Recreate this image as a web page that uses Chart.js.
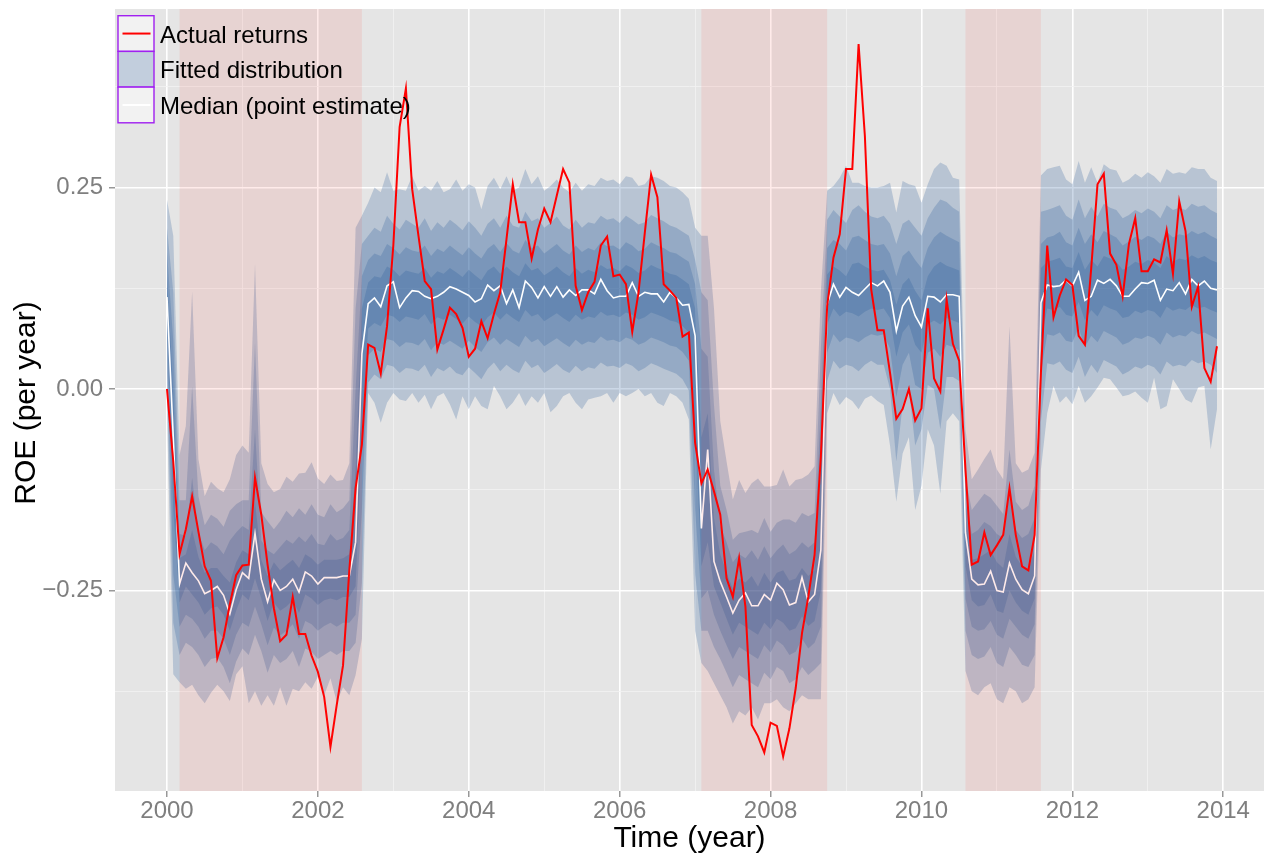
<!DOCTYPE html>
<html>
<head>
<meta charset="utf-8">
<title>ROE fan chart</title>
<script src="https://cdn.jsdelivr.net/npm/chart.js@4.4.1/dist/chart.umd.min.js"></script>
<style>
  html, body { margin: 0; padding: 0; background: #ffffff; }
  #wrap { width: 1264px; height: 855px; }
</style>
</head>
<body>
<div id="wrap"><canvas id="roeChart" width="1264" height="855"></canvas></div>
<script>
// Monthly values, Jan 2000 .. Dec 2013 (one row per year)
var actual = [
  0.000, -0.090, -0.205, -0.174, -0.133, -0.177, -0.220, -0.238, -0.334, -0.308, -0.267, -0.231,
  -0.219, -0.218, -0.110, -0.156, -0.218, -0.272, -0.313, -0.305, -0.258, -0.304, -0.304, -0.331,
  -0.351, -0.382, -0.444, -0.392, -0.343, -0.225, -0.123, -0.069, 0.055, 0.051, 0.019, 0.078,
  0.178, 0.325, 0.373, 0.248, 0.190, 0.134, 0.124, 0.049, 0.074, 0.101, 0.093, 0.076,
  0.040, 0.050, 0.084, 0.063, 0.093, 0.120, 0.186, 0.254, 0.207, 0.207, 0.162, 0.198,
  0.224, 0.207, 0.240, 0.273, 0.256, 0.128, 0.098, 0.120, 0.133, 0.178, 0.189, 0.140,
  0.142, 0.130, 0.071, 0.120, 0.194, 0.266, 0.238, 0.130, 0.122, 0.113, 0.065, 0.070,
  -0.067, -0.117, -0.100, -0.127, -0.156, -0.235, -0.258, -0.210, -0.270, -0.417, -0.431, -0.451,
  -0.414, -0.418, -0.456, -0.421, -0.371, -0.303, -0.258, -0.206, -0.084, 0.103, 0.163, 0.192,
  0.273, 0.273, 0.428, 0.314, 0.124, 0.073, 0.073, 0.020, -0.037, -0.025, 0.000, -0.039,
  -0.024, 0.100, 0.013, -0.003, 0.111, 0.056, 0.035, -0.100, -0.218, -0.214, -0.178, -0.206,
  -0.194, -0.181, -0.123, -0.181, -0.220, -0.225, -0.181, 0.020, 0.178, 0.089, 0.116, 0.136,
  0.129, 0.066, 0.055, 0.150, 0.254, 0.267, 0.168, 0.154, 0.115, 0.180, 0.212, 0.146,
  0.146, 0.161, 0.157, 0.197, 0.143, 0.233, 0.196, 0.102, 0.127, 0.026, 0.009, 0.053
];

var median = [
  0.114, -0.060, -0.242, -0.216, -0.228, -0.238, -0.254, -0.250, -0.245, -0.256, -0.279, -0.249,
  -0.228, -0.235, -0.179, -0.236, -0.264, -0.237, -0.250, -0.245, -0.236, -0.252, -0.227, -0.232,
  -0.242, -0.234, -0.234, -0.234, -0.232, -0.232, -0.190, 0.044, 0.106, 0.113, 0.102, 0.128,
  0.133, 0.101, 0.113, 0.122, 0.121, 0.115, 0.112, 0.115, 0.120, 0.127, 0.124, 0.120,
  0.116, 0.108, 0.112, 0.129, 0.122, 0.128, 0.106, 0.123, 0.101, 0.134, 0.126, 0.113,
  0.127, 0.115, 0.127, 0.114, 0.123, 0.116, 0.123, 0.123, 0.118, 0.136, 0.122, 0.113,
  0.115, 0.115, 0.132, 0.115, 0.120, 0.118, 0.118, 0.108, 0.120, 0.113, 0.104, 0.105,
  0.066, -0.173, -0.075, -0.214, -0.239, -0.258, -0.278, -0.262, -0.253, -0.269, -0.269, -0.255,
  -0.262, -0.241, -0.249, -0.268, -0.265, -0.234, -0.264, -0.255, -0.200, 0.105, 0.130, 0.114,
  0.126, 0.120, 0.116, 0.124, 0.132, 0.128, 0.134, 0.120, 0.072, 0.103, 0.114, 0.091,
  0.077, 0.115, 0.114, 0.108, 0.117, 0.117, 0.115, -0.178, -0.236, -0.243, -0.242, -0.226,
  -0.250, -0.252, -0.216, -0.236, -0.249, -0.254, -0.232, 0.107, 0.129, 0.127, 0.128, 0.135,
  0.128, 0.145, 0.110, 0.115, 0.135, 0.131, 0.136, 0.128, 0.115, 0.115, 0.124, 0.132,
  0.131, 0.135, 0.110, 0.124, 0.122, 0.132, 0.118, 0.136, 0.128, 0.134, 0.125, 0.123
];

// fitted distribution: edges of the four nested ribbons (outermost first)
var outerHi = [
  0.235, 0.190, -0.082, -0.046, 0.121, -0.087, -0.133, -0.115, -0.123, -0.128, -0.112, -0.082,
  -0.070, -0.079, 0.155, -0.092, -0.118, -0.128, -0.124, -0.109, -0.115, -0.105, -0.104, -0.091,
  -0.111, -0.118, -0.106, -0.114, -0.113, -0.092, 0.200, 0.215, 0.231, 0.250, 0.244, 0.269,
  0.246, 0.248, 0.246, 0.264, 0.246, 0.252, 0.246, 0.258, 0.244, 0.248, 0.260, 0.246,
  0.254, 0.250, 0.223, 0.252, 0.262, 0.248, 0.264, 0.246, 0.250, 0.273, 0.254, 0.264,
  0.246, 0.252, 0.260, 0.250, 0.244, 0.256, 0.246, 0.254, 0.252, 0.262, 0.258, 0.260,
  0.254, 0.264, 0.262, 0.252, 0.254, 0.264, 0.262, 0.258, 0.252, 0.250, 0.244, 0.236,
  0.200, 0.190, 0.190, 0.100, -0.040, -0.090, -0.137, -0.113, -0.129, -0.117, -0.111, -0.121,
  -0.121, -0.119, -0.100, -0.121, -0.113, -0.111, -0.106, -0.096, 0.120, 0.246, 0.252, 0.262,
  0.277, 0.256, 0.256, 0.252, 0.250, 0.250, 0.252, 0.256, 0.219, 0.258, 0.254, 0.252,
  0.231, 0.254, 0.273, 0.281, 0.277, 0.262, 0.260, -0.050, -0.112, -0.100, -0.087, -0.075,
  -0.100, -0.112, 0.078, -0.092, -0.104, -0.100, -0.079, 0.265, 0.273, 0.275, 0.277, 0.260,
  0.254, 0.283, 0.256, 0.275, 0.256, 0.279, 0.273, 0.271, 0.256, 0.260, 0.267, 0.262,
  0.269, 0.264, 0.256, 0.273, 0.267, 0.269, 0.267, 0.275, 0.273, 0.273, 0.262, 0.258
];
var outerLo = [
  -0.030, -0.354, -0.364, -0.372, -0.367, -0.380, -0.390, -0.377, -0.367, -0.375, -0.387, -0.354,
  -0.344, -0.390, -0.375, -0.393, -0.380, -0.393, -0.370, -0.393, -0.372, -0.375, -0.364, -0.372,
  -0.357, -0.380, -0.359, -0.388, -0.370, -0.380, -0.355, -0.310, -0.005, -0.017, -0.042, -0.017,
  -0.005, -0.013, -0.015, -0.005, -0.017, -0.007, -0.025, -0.009, -0.005, -0.019, -0.038, -0.009,
  -0.025, -0.009, -0.021, -0.025, 0.004, -0.009, -0.025, -0.017, -0.005, -0.021, -0.009, -0.017,
  -0.005, -0.029, -0.021, -0.009, -0.005, -0.017, -0.025, -0.013, -0.011, -0.009, -0.005, -0.017,
  -0.005, -0.009, -0.005, 0.000, -0.009, -0.005, -0.017, -0.021, -0.005, -0.009, -0.017, -0.038,
  -0.300, -0.340, -0.350, -0.365, -0.380, -0.395, -0.415, -0.400, -0.405, -0.395, -0.410, -0.390,
  -0.390, -0.385, -0.395, -0.400, -0.390, -0.380, -0.385, -0.385, -0.385, -0.030, -0.005, -0.020,
  -0.010, -0.015, -0.025, -0.012, -0.008, -0.015, -0.020, -0.070, -0.140, -0.080, -0.060, -0.150,
  -0.120, -0.050, -0.070, -0.130, -0.040, -0.030, -0.040, -0.350, -0.375, -0.380, -0.370, -0.365,
  -0.385, -0.390, -0.370, -0.375, -0.390, -0.385, -0.370, -0.100, -0.030, 0.004, -0.017, -0.009,
  -0.019, 0.004, -0.017, -0.009, 0.002, 0.014, 0.012, 0.002, -0.009, -0.007, -0.003, -0.011,
  -0.017, 0.014, -0.025, -0.021, 0.012, 0.000, -0.013, -0.017, 0.002, 0.004, -0.075, -0.025
];
var wideHi = [
  0.200, 0.120, -0.138, -0.138, 0.003, -0.133, -0.169, -0.156, -0.161, -0.171, -0.151, -0.143,
  -0.138, -0.138, 0.057, -0.153, -0.164, -0.174, -0.164, -0.151, -0.159, -0.148, -0.156, -0.143,
  -0.156, -0.159, -0.143, -0.153, -0.148, -0.138, 0.100, 0.180, 0.190, 0.200, 0.195, 0.215,
  0.205, 0.198, 0.210, 0.205, 0.200, 0.212, 0.196, 0.207, 0.200, 0.210, 0.204, 0.197,
  0.208, 0.200, 0.190, 0.205, 0.212, 0.200, 0.215, 0.203, 0.200, 0.220, 0.208, 0.212,
  0.200, 0.206, 0.214, 0.203, 0.198, 0.210, 0.200, 0.207, 0.205, 0.215, 0.210, 0.212,
  0.206, 0.215, 0.210, 0.204, 0.207, 0.216, 0.212, 0.208, 0.203, 0.200, 0.195, 0.190,
  0.160, 0.120, 0.110, -0.020, -0.120, -0.150, -0.187, -0.179, -0.177, -0.175, -0.179, -0.160,
  -0.177, -0.166, -0.162, -0.162, -0.166, -0.154, -0.158, -0.154, 0.050, 0.210, 0.222, 0.214,
  0.206, 0.222, 0.228, 0.220, 0.214, 0.212, 0.215, 0.205, 0.180, 0.205, 0.210, 0.200,
  0.190, 0.212, 0.225, 0.235, 0.232, 0.225, 0.220, -0.110, -0.150, -0.140, -0.130, -0.135,
  -0.145, -0.155, -0.075, -0.140, -0.150, -0.145, -0.120, 0.220, 0.222, 0.225, 0.228, 0.215,
  0.210, 0.235, 0.212, 0.226, 0.214, 0.230, 0.225, 0.222, 0.212, 0.216, 0.222, 0.218,
  0.224, 0.220, 0.212, 0.228, 0.222, 0.225, 0.222, 0.230, 0.226, 0.228, 0.222, 0.218
];
var wideLo = [
  0.020, -0.290, -0.330, -0.315, -0.320, -0.330, -0.345, -0.335, -0.333, -0.345, -0.365, -0.338,
  -0.322, -0.330, -0.305, -0.325, -0.352, -0.330, -0.340, -0.335, -0.325, -0.345, -0.322, -0.326,
  -0.335, -0.330, -0.325, -0.330, -0.325, -0.325, -0.315, -0.240, 0.008, 0.018, 0.012, 0.030,
  0.028, 0.020, 0.026, 0.025, 0.022, 0.030, 0.015, 0.026, 0.022, 0.028, 0.020, 0.017,
  0.027, 0.020, 0.012, 0.025, 0.033, 0.022, 0.030, 0.024, 0.020, 0.035, 0.026, 0.030,
  0.020, 0.025, 0.031, 0.024, 0.020, 0.029, 0.022, 0.027, 0.025, 0.033, 0.028, 0.029,
  0.026, 0.032, 0.029, 0.022, 0.026, 0.032, 0.029, 0.025, 0.022, 0.019, 0.012, -0.002,
  -0.230, -0.300, -0.300, -0.320, -0.335, -0.352, -0.370, -0.355, -0.360, -0.365, -0.370, -0.352,
  -0.360, -0.345, -0.350, -0.365, -0.360, -0.345, -0.355, -0.348, -0.340, 0.010, 0.035, 0.025,
  0.030, 0.028, 0.022, 0.030, 0.035, 0.030, 0.030, 0.000, -0.090, -0.020, 0.000, -0.070,
  -0.050, 0.005, 0.000, -0.050, 0.015, 0.015, 0.010, -0.300, -0.330, -0.335, -0.332, -0.320,
  -0.340, -0.345, -0.320, -0.330, -0.342, -0.345, -0.330, -0.040, 0.032, 0.030, 0.034, 0.024,
  0.020, 0.040, 0.015, 0.030, 0.020, 0.036, 0.032, 0.028, 0.018, 0.022, 0.028, 0.025,
  0.030, 0.027, 0.018, 0.034, 0.028, 0.030, 0.028, 0.036, 0.032, 0.034, 0.030, 0.020
];
var midHi = [
  0.170, 0.060, -0.180, -0.182, -0.110, -0.178, -0.200, -0.190, -0.195, -0.205, -0.188, -0.178,
  -0.170, -0.175, -0.050, -0.188, -0.200, -0.205, -0.196, -0.187, -0.192, -0.183, -0.190, -0.180,
  -0.192, -0.194, -0.180, -0.188, -0.185, -0.175, 0.000, 0.140, 0.160, 0.168, 0.165, 0.180,
  0.175, 0.167, 0.176, 0.172, 0.170, 0.178, 0.165, 0.174, 0.170, 0.178, 0.172, 0.166,
  0.176, 0.168, 0.162, 0.174, 0.180, 0.170, 0.181, 0.172, 0.168, 0.185, 0.175, 0.178,
  0.168, 0.174, 0.180, 0.172, 0.167, 0.178, 0.170, 0.175, 0.172, 0.182, 0.177, 0.178,
  0.173, 0.182, 0.178, 0.171, 0.174, 0.182, 0.178, 0.175, 0.170, 0.168, 0.163, 0.158,
  0.130, 0.050, 0.040, -0.100, -0.170, -0.190, -0.215, -0.205, -0.210, -0.200, -0.212, -0.195,
  -0.210, -0.200, -0.193, -0.205, -0.200, -0.190, -0.197, -0.190, -0.020, 0.175, 0.185, 0.180,
  0.172, 0.188, 0.190, 0.185, 0.180, 0.178, 0.180, 0.168, 0.140, 0.165, 0.172, 0.160,
  0.150, 0.175, 0.188, 0.195, 0.190, 0.186, 0.182, -0.140, -0.180, -0.175, -0.165, -0.170,
  -0.180, -0.185, -0.130, -0.175, -0.185, -0.180, -0.160, 0.180, 0.188, 0.190, 0.195, 0.182,
  0.178, 0.200, 0.180, 0.192, 0.182, 0.196, 0.192, 0.188, 0.178, 0.183, 0.189, 0.185,
  0.190, 0.187, 0.180, 0.195, 0.188, 0.192, 0.190, 0.196, 0.192, 0.195, 0.190, 0.186
];
var midLo = [
  0.055, -0.230, -0.295, -0.280, -0.285, -0.295, -0.310, -0.300, -0.300, -0.310, -0.330, -0.305,
  -0.290, -0.295, -0.270, -0.292, -0.318, -0.296, -0.306, -0.300, -0.292, -0.310, -0.288, -0.292,
  -0.300, -0.294, -0.290, -0.295, -0.290, -0.290, -0.280, -0.150, 0.042, 0.050, 0.046, 0.062,
  0.060, 0.052, 0.058, 0.057, 0.054, 0.062, 0.048, 0.058, 0.055, 0.060, 0.055, 0.050,
  0.060, 0.052, 0.046, 0.058, 0.064, 0.055, 0.062, 0.057, 0.052, 0.066, 0.058, 0.062,
  0.053, 0.058, 0.063, 0.057, 0.052, 0.061, 0.055, 0.059, 0.057, 0.065, 0.060, 0.061,
  0.058, 0.064, 0.061, 0.055, 0.058, 0.064, 0.061, 0.058, 0.054, 0.052, 0.046, 0.035,
  -0.150, -0.260, -0.250, -0.280, -0.300, -0.318, -0.335, -0.320, -0.325, -0.330, -0.335, -0.318,
  -0.327, -0.312, -0.318, -0.330, -0.326, -0.310, -0.322, -0.315, -0.295, 0.045, 0.068, 0.058,
  0.064, 0.062, 0.058, 0.064, 0.068, 0.066, 0.068, 0.050, -0.010, 0.030, 0.045, 0.005,
  0.000, 0.045, 0.050, 0.040, 0.055, 0.052, 0.048, -0.260, -0.295, -0.300, -0.298, -0.288,
  -0.305, -0.310, -0.285, -0.295, -0.305, -0.310, -0.292, 0.020, 0.068, 0.066, 0.070, 0.060,
  0.058, 0.076, 0.052, 0.066, 0.058, 0.072, 0.068, 0.064, 0.055, 0.058, 0.064, 0.062,
  0.066, 0.063, 0.055, 0.070, 0.064, 0.067, 0.065, 0.072, 0.068, 0.070, 0.066, 0.062
];
var innerHi = [
  0.140, 0.000, -0.210, -0.205, -0.175, -0.208, -0.228, -0.222, -0.222, -0.232, -0.240, -0.215,
  -0.200, -0.205, -0.140, -0.212, -0.232, -0.215, -0.225, -0.218, -0.212, -0.222, -0.205, -0.210,
  -0.218, -0.212, -0.212, -0.212, -0.210, -0.205, -0.100, 0.100, 0.132, 0.140, 0.138, 0.152,
  0.148, 0.140, 0.147, 0.145, 0.143, 0.150, 0.138, 0.146, 0.143, 0.150, 0.145, 0.139,
  0.148, 0.141, 0.135, 0.147, 0.152, 0.143, 0.152, 0.145, 0.140, 0.156, 0.147, 0.150,
  0.141, 0.146, 0.152, 0.145, 0.140, 0.150, 0.143, 0.148, 0.145, 0.154, 0.149, 0.150,
  0.146, 0.154, 0.150, 0.144, 0.147, 0.154, 0.150, 0.147, 0.143, 0.141, 0.136, 0.130,
  0.100, -0.060, -0.030, -0.160, -0.205, -0.228, -0.248, -0.235, -0.240, -0.232, -0.245, -0.228,
  -0.240, -0.228, -0.225, -0.238, -0.235, -0.222, -0.232, -0.225, -0.100, 0.142, 0.152, 0.147,
  0.140, 0.155, 0.157, 0.152, 0.148, 0.146, 0.148, 0.135, 0.105, 0.130, 0.138, 0.122,
  0.110, 0.140, 0.152, 0.158, 0.153, 0.150, 0.147, -0.160, -0.212, -0.210, -0.205, -0.200,
  -0.215, -0.222, -0.180, -0.208, -0.220, -0.225, -0.200, 0.150, 0.158, 0.160, 0.163, 0.152,
  0.150, 0.170, 0.148, 0.160, 0.152, 0.165, 0.162, 0.158, 0.148, 0.152, 0.158, 0.155,
  0.160, 0.157, 0.150, 0.165, 0.158, 0.162, 0.160, 0.166, 0.162, 0.165, 0.160, 0.157
];
var innerLo = [
  0.085, -0.150, -0.265, -0.245, -0.255, -0.265, -0.280, -0.272, -0.270, -0.280, -0.300, -0.275,
  -0.255, -0.262, -0.235, -0.260, -0.288, -0.265, -0.275, -0.270, -0.262, -0.278, -0.255, -0.260,
  -0.268, -0.262, -0.260, -0.262, -0.258, -0.258, -0.245, -0.050, 0.075, 0.082, 0.078, 0.092,
  0.090, 0.083, 0.090, 0.088, 0.086, 0.093, 0.080, 0.089, 0.086, 0.092, 0.087, 0.081,
  0.090, 0.083, 0.078, 0.089, 0.095, 0.086, 0.094, 0.088, 0.083, 0.098, 0.090, 0.093,
  0.084, 0.089, 0.094, 0.088, 0.083, 0.092, 0.086, 0.090, 0.088, 0.096, 0.091, 0.092,
  0.089, 0.095, 0.092, 0.086, 0.089, 0.095, 0.092, 0.089, 0.085, 0.083, 0.078, 0.070,
  -0.050, -0.220, -0.190, -0.245, -0.265, -0.285, -0.305, -0.290, -0.295, -0.300, -0.305, -0.290,
  -0.298, -0.285, -0.290, -0.300, -0.297, -0.282, -0.294, -0.288, -0.250, 0.080, 0.100, 0.090,
  0.096, 0.094, 0.090, 0.096, 0.100, 0.098, 0.100, 0.088, 0.040, 0.070, 0.080, 0.055,
  0.045, 0.080, 0.085, 0.080, 0.088, 0.085, 0.082, -0.220, -0.262, -0.270, -0.268, -0.255,
  -0.275, -0.278, -0.250, -0.265, -0.275, -0.280, -0.260, 0.060, 0.100, 0.098, 0.102, 0.092,
  0.090, 0.108, 0.085, 0.098, 0.090, 0.104, 0.100, 0.097, 0.088, 0.090, 0.097, 0.094,
  0.098, 0.096, 0.088, 0.102, 0.097, 0.100, 0.098, 0.104, 0.100, 0.102, 0.098, 0.095
];

// shaded periods (decimal years)
var shadeStart = [2000.167, 2007.083, 2010.583];
var shadeEnd = [2002.583, 2008.75, 2011.583];

var yearTicks = [2000, 2001, 2002, 2003, 2004, 2005, 2006, 2007, 2008, 2009, 2010, 2011, 2012, 2013, 2014];
var roeTicks = [-0.375, -0.25, -0.125, 0, 0.125, 0.25, 0.375];
var legendLabels = ['Actual returns', 'Fitted distribution', 'Median (point estimate)'];

var bandColour = 'rgba(35, 88, 150, 0.23)';
var fontFamily = "'Liberation Sans', Arial, sans-serif";

Chart.defaults.font.family = fontFamily;

var months = actual.map(function (v, i) { return 2000 + i / 12; });

function series(values) {
  return values.map(function (v, i) { return { x: months[i], y: v }; });
}

function isMajorYear(v) { return v % 2 === 0; }
function isMajorRoe(v) { return Math.abs(Math.round(v * 4) - v * 4) < 1e-9; }

var datasets = [
  { label: 'Actual returns', data: series(actual), borderColor: '#ff0000', borderWidth: 2, pointRadius: 0, fill: false },
  { label: 'Median', data: series(median), borderColor: '#ffffff', borderWidth: 1.6, pointRadius: 0, fill: false }
];

[[outerHi, outerLo], [wideHi, wideLo], [midHi, midLo], [innerHi, innerLo]].forEach(function (pair) {
  var lowerIndex = datasets.length + 1;
  datasets.push({ data: series(pair[0]), borderWidth: 0, borderColor: 'rgba(0,0,0,0)', pointRadius: 0,
                  fill: lowerIndex, backgroundColor: bandColour });
  datasets.push({ data: series(pair[1]), borderWidth: 0, borderColor: 'rgba(0,0,0,0)', pointRadius: 0, fill: false });
});

// grey panel, shaded periods (drawn over the ribbons and lines), legend and axis titles
var ggPanel = {
  id: 'ggPanel',
  beforeDraw: function (chart) {
    var a = chart.chartArea, ctx = chart.ctx;
    ctx.save();
    ctx.fillStyle = '#e5e5e5';
    ctx.fillRect(a.left, a.top, a.right - a.left, a.bottom - a.top);
    ctx.restore();
  },
  afterDatasetsDraw: function (chart) {
    var a = chart.chartArea, ctx = chart.ctx, xs = chart.scales.x;
    ctx.save();
    ctx.fillStyle = 'rgba(255, 30, 20, 0.09)';
    shadeStart.forEach(function (s, k) {
      var x0 = xs.getPixelForValue(s), x1 = xs.getPixelForValue(shadeEnd[k]);
      ctx.fillRect(x0, a.top, x1 - x0, a.bottom - a.top);
    });
    ctx.restore();
  },
  afterDraw: function (chart) {
    var ctx = chart.ctx, a = chart.chartArea;
    ctx.save();
    // legend keys
    var keyX = 118, keyW = 36, keyH = 35.7, keyTop = 15.7;
    legendLabels.forEach(function (label, k) {
      var y0 = keyTop + k * keyH;
      ctx.fillStyle = '#f2f2f2';
      ctx.fillRect(keyX, y0, keyW, keyH);
      if (k === 1) {
        ctx.fillStyle = bandColour;
        ctx.fillRect(keyX, y0, keyW, keyH);
      } else {
        ctx.strokeStyle = k === 0 ? '#ff0000' : '#ffffff';
        ctx.lineWidth = 2;
        ctx.beginPath();
        ctx.moveTo(keyX + 4.5, y0 + keyH / 2);
        ctx.lineTo(keyX + keyW - 3.5, y0 + keyH / 2);
        ctx.stroke();
      }
      ctx.strokeStyle = '#a020f0';
      ctx.lineWidth = 1.4;
      ctx.strokeRect(keyX, y0, keyW, keyH);
      ctx.fillStyle = '#000000';
      ctx.font = '24px ' + fontFamily;
      ctx.textAlign = 'left';
      ctx.textBaseline = 'alphabetic';
      ctx.fillText(label, 160, y0 + 27);
    });
    // axis titles
    ctx.font = '30px ' + fontFamily;
    ctx.fillStyle = '#000000';
    ctx.textAlign = 'center';
    ctx.textBaseline = 'alphabetic';
    ctx.fillText('Time (year)', (a.left + a.right) / 2, 847);
    ctx.translate(35, 403);
    ctx.rotate(-Math.PI / 2);
    ctx.fillText('ROE (per year)', 0, 0);
    ctx.restore();
  }
};

new Chart(document.getElementById('roeChart').getContext('2d'), {
  type: 'line',
  data: { datasets: datasets },
  options: {
    responsive: false,
    animation: false,
    devicePixelRatio: 1,
    layout: { padding: { top: 9, right: 0, bottom: 0, left: 0 } },
    elements: { line: { tension: 0 } },
    plugins: { legend: { display: false }, tooltip: { enabled: false } },
    scales: {
      x: {
        type: 'linear',
        min: 1999.311,
        max: 2014.54,
        afterBuildTicks: function (scale) {
          scale.ticks = yearTicks.map(function (v) { return { value: v }; });
        },
        afterFit: function (scale) {
          scale.height = 64;
          scale.paddingLeft = 0;
          scale.paddingRight = 0;
        },
        border: { display: false },
        grid: {
          color: function (c) { return isMajorYear(c.tick.value) ? '#ffffff' : '#f2f2f2'; },
          lineWidth: function (c) { return isMajorYear(c.tick.value) ? 1.6 : 0.8; },
          tickColor: function (c) { return isMajorYear(c.tick.value) ? '#7f7f7f' : 'rgba(0,0,0,0)'; },
          tickWidth: 1.2,
          tickLength: 6
        },
        ticks: {
          autoSkip: false,
          maxRotation: 0,
          padding: 0,
          color: '#7f7f7f',
          font: { size: 24 },
          callback: function (v) { return isMajorYear(v) ? String(v) : ''; }
        }
      },
      y: {
        type: 'linear',
        min: -0.4988,
        max: 0.4715,
        afterBuildTicks: function (scale) {
          scale.ticks = roeTicks.map(function (v) { return { value: v }; });
        },
        afterFit: function (scale) {
          scale.width = 115;
          scale.paddingTop = 0;
          scale.paddingBottom = 0;
        },
        border: { display: false },
        grid: {
          color: function (c) { return isMajorRoe(c.tick.value) ? '#ffffff' : '#f2f2f2'; },
          lineWidth: function (c) { return isMajorRoe(c.tick.value) ? 1.6 : 0.8; },
          tickColor: function (c) { return isMajorRoe(c.tick.value) ? '#7f7f7f' : 'rgba(0,0,0,0)'; },
          tickWidth: 1.2,
          tickLength: 6
        },
        ticks: {
          padding: 6,
          color: '#7f7f7f',
          font: { size: 24 },
          callback: function (v) {
            if (!isMajorRoe(v)) return '';
            return (v < 0 ? '\u2212' : '') + Math.abs(v).toFixed(2);
          }
        }
      }
    }
  },
  plugins: [ggPanel]
});
</script>
</body>
</html>
